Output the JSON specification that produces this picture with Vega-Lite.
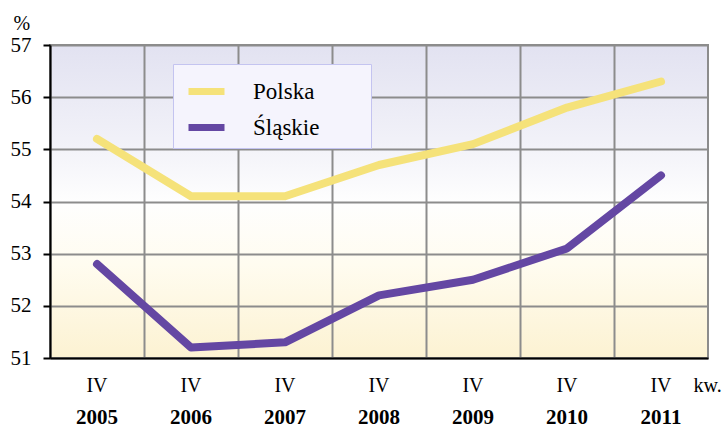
{
  "$schema": "https://vega.github.io/schema/vega-lite/v6.json",
  "autosize": "none",
  "width": 658,
  "height": 313,
  "padding": {"left": 50, "top": 45, "right": 17, "bottom": 70},
  "background": "white",
  "view": {
    "stroke": "#8c8c8c",
    "strokeWidth": 2,
    "fill": {
      "gradient": "linear",
      "x1": 0, "y1": 0, "x2": 0, "y2": 1,
      "stops": [
        {"offset": 0, "color": "#e2e2f1"},
        {"offset": 0.3, "color": "#f1f1f8"},
        {"offset": 0.5, "color": "#fefefe"},
        {"offset": 0.7, "color": "#fffcf0"},
        {"offset": 1, "color": "#fcf2d2"}
      ]
    }
  },
  "config": {
    "font": "Liberation Serif",
    "axis": {"labelFont": "Liberation Serif", "titleFont": "Liberation Serif"},
    "legend": {"labelFont": "Liberation Serif", "titleFont": "Liberation Serif"}
  },
  "datasets": {
    "emp": [
      {"rok": "2005", "seria": "Polska", "wartosc": 55.2},
      {"rok": "2006", "seria": "Polska", "wartosc": 54.1},
      {"rok": "2007", "seria": "Polska", "wartosc": 54.1},
      {"rok": "2008", "seria": "Polska", "wartosc": 54.7},
      {"rok": "2009", "seria": "Polska", "wartosc": 55.1},
      {"rok": "2010", "seria": "Polska", "wartosc": 55.8},
      {"rok": "2011", "seria": "Polska", "wartosc": 56.3},
      {"rok": "2005", "seria": "Śląskie", "wartosc": 52.8},
      {"rok": "2006", "seria": "Śląskie", "wartosc": 51.2},
      {"rok": "2007", "seria": "Śląskie", "wartosc": 51.3},
      {"rok": "2008", "seria": "Śląskie", "wartosc": 52.2},
      {"rok": "2009", "seria": "Śląskie", "wartosc": 52.5},
      {"rok": "2010", "seria": "Śląskie", "wartosc": 53.1},
      {"rok": "2011", "seria": "Śląskie", "wartosc": 54.5}
    ]
  },
  "layer": [
    {
      "data": {"name": "emp"},
      "transform": [{"filter": "datum.seria === 'Polska'"}],
      "mark": {"type": "line", "strokeWidth": 8, "strokeCap": "round", "strokeJoin": "round"},
      "encoding": {
        "x": {
          "field": "rok", "type": "nominal",
          "scale": {"type": "band", "paddingInner": 0, "paddingOuter": 0},
          "axis": {
            "orient": "bottom",
            "labelExpr": "'IV'",
            "labelFont": "Liberation Serif",
            "labelFontSize": 20,
            "labelColor": "black",
            "labelAngle": 0,
            "labelPadding": 17,
            "ticks": false,
            "domainColor": "black",
            "domainWidth": 2,
            "grid": true,
            "bandPosition": 0,
            "gridColor": "#8c8c8c",
            "gridWidth": 2,
            "gridOpacity": 1,
            "title": "kw.",
            "titleFont": "Liberation Serif",
            "titleFontSize": 20,
            "titleFontWeight": "normal",
            "titleColor": "black",
            "titleAlign": "left",
            "titleBaseline": "middle",
            "titleX": 643,
            "titleY": 27
          }
        },
        "y": {
          "field": "wartosc", "type": "quantitative",
          "scale": {"domain": [51, 57], "nice": false, "zero": false},
          "axis": {
            "values": [51, 52, 53, 54, 55, 56, 57],
            "labelFont": "Liberation Serif",
            "labelFontSize": 21,
            "labelColor": "black",
            "labelPadding": 12,
            "tickSize": 7,
            "tickColor": "black",
            "tickWidth": 2,
            "domainColor": "black",
            "domainWidth": 2,
            "gridColor": "#8c8c8c",
            "gridWidth": 2,
            "gridOpacity": 1,
            "title": "%",
            "titleFont": "Liberation Serif",
            "titleAngle": 0,
            "titleFontSize": 20,
            "titleFontWeight": "normal",
            "titleColor": "black",
            "titleAlign": "left",
            "titleBaseline": "top",
            "titleX": -37,
            "titleY": -32
          }
        },
        "color": {
          "field": "seria", "type": "nominal",
          "scale": {"domain": ["Polska", "Śląskie"], "range": ["#f5e27a", "#6447a3"]},
          "legend": {
            "title": "x",
            "titleOrient": "right",
            "titleColor": "rgba(0,0,0,0)",
            "titleFontSize": 11,
            "titlePadding": 40,
            "orient": "none",
            "legendX": 123,
            "legendY": 19,
            "symbolType": "stroke",
            "symbolSize": 1296,
            "symbolStrokeWidth": 7,
            "symbolOffset": 6,
            "labelFont": "Liberation Serif",
            "labelFontSize": 23,
            "labelColor": "black",
            "labelOffset": 25,
            "labelLimit": 300,
            "rowPadding": -9,
            "padding": 6,
            "fillColor": "#f5f4fd",
            "strokeColor": "#c4c4f0"
          }
        }
      }
    },
    {
      "data": {"name": "emp"},
      "transform": [{"filter": "datum.seria === 'Śląskie'"}],
      "mark": {"type": "line", "strokeWidth": 8, "strokeCap": "round", "strokeJoin": "round"},
      "encoding": {
        "x": {
          "field": "rok", "type": "nominal",
          "scale": {"type": "band", "paddingInner": 0, "paddingOuter": 0},
          "axis": {
            "orient": "bottom",
            "labelFont": "Liberation Serif",
            "labelFontSize": 21,
            "labelFontWeight": "bold",
            "labelColor": "black",
            "labelAngle": 0,
            "labelPadding": 48,
            "ticks": false,
            "domain": false,
            "grid": false,
            "title": null
          }
        },
        "y": {"field": "wartosc", "type": "quantitative"},
        "color": {"field": "seria", "type": "nominal"}
      }
    }
  ],
  "resolve": {"scale": {"x": "independent"}, "axis": {"x": "independent"}}
}
